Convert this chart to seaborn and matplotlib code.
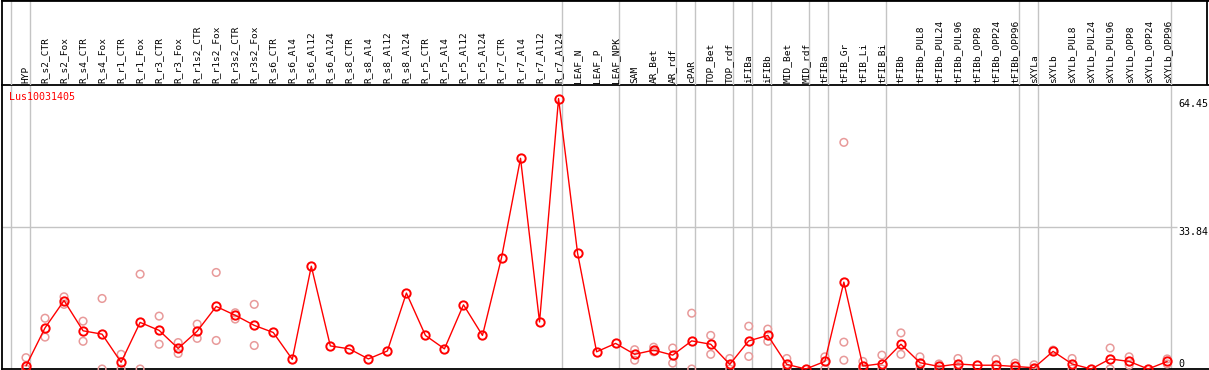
import numpy as np
import pandas as pd
import matplotlib
matplotlib.use("Agg")
import matplotlib.pyplot as plt
import seaborn as sns

# ---------------- data ----------------
categories = [
    "HYP", "R_s2_CTR", "R_s2_Fox", "R_s4_CTR", "R_s4_Fox", "R_r1_CTR", "R_r1_Fox",
    "R_r3_CTR", "R_r3_Fox", "R_r1s2_CTR", "R_r1s2_Fox", "R_r3s2_CTR", "R_r3s2_Fox",
    "R_s6_CTR", "R_s6_Al4", "R_s6_Al12", "R_s6_Al24", "R_s8_CTR", "R_s8_Al4",
    "R_s8_Al12", "R_s8_Al24", "R_r5_CTR", "R_r5_Al4", "R_r5_Al12", "R_r5_Al24",
    "R_r7_CTR", "R_r7_Al4", "R_r7_Al12", "R_r7_Al24", "LEAF_N", "LEAF_P", "LEAF_NPK",
    "SAM", "AR_Bet", "AR_rdf", "cPAR", "TOP_Bet", "TOP_rdf", "iFIBa", "iFIBb",
    "MID_Bet", "MID_rdf", "tFIBa", "tFIB_Gr", "tFIB_Li", "tFIB_Bi", "tFIBb",
    "tFIBb_PUL8", "tFIBb_PUL24", "tFIBb_PUL96", "tFIBb_OPP8", "tFIBb_OPP24",
    "tFIBb_OPP96", "sXYLa", "sXYLb", "sXYLb_PUL8", "sXYLb_PUL24", "sXYLb_PUL96",
    "sXYLb_OPP8", "sXYLb_OPP24", "sXYLb_OPP96",
]

means = [
    0.7, 9.8, 16.3, 9.1, 8.3, 1.6, 11.1,
    9.2, 4.9, 9.0, 14.9, 12.8, 10.4,
    8.7, 2.3, 24.5, 5.5, 4.8, 2.4,
    4.3, 18.1, 8.0, 4.8, 15.3, 8.0,
    26.5, 50.2, 11.2, 64.45, 27.6, 4.1, 6.1,
    3.5, 4.5, 3.3, 6.7, 5.9, 1.1, 6.7, 8.0,
    1.1, 0.0, 1.8, 20.7, 0.7, 1.3, 5.9,
    1.5, 0.6, 1.2, 0.9, 0.9,
    0.6, 0.3, 4.2, 1.2, 0.0, 2.4,
    1.8, 0.0, 1.8,
]

replicates = [
    [2.7, 0.0], [12.1, 7.6], [17.2, 15.4], [11.4, 6.6], [16.8, 0.0], [3.5, 0.0], [22.6, 0.0],
    [12.6, 5.9], [6.3, 3.7], [10.7, 7.3], [23.0, 6.8], [13.4, 11.9], [15.4, 5.6],
    [], [], [], [], [], [],
    [], [], [], [], [], [],
    [], [], [], [], [], [], [],
    [4.6, 2.1], [5.2, 4.1], [5.0, 1.4], [13.3, 0.0], [8.0, 3.5], [2.5, 0.0], [10.2, 3.0], [9.5, 6.6],
    [2.5, 0.0], [], [2.9, 0.0], [54.0, 6.4, 2.1], [1.8, 0.0], [3.3, 0.0], [8.6, 3.5],
    [2.9, 0.0], [1.2, 0.0], [2.5, 0.0], [], [2.3, 0.0],
    [1.4, 0.0], [1.0, 0.0], [4.5], [2.5, 0.0], [], [5.0, 0.0],
    [2.9, 0.9], [], [2.4, 1.2],
]

gene_id = "Lus10031405"
scale_values = [64.45, 33.84, 0]
scale_labels = ["64.45", "33.84", "0"]
separator_after = [-1, 0, 28, 31, 34, 35, 37, 38, 39, 41, 42, 45, 52, 53, 60]

# ---------------- style ----------------
sns.set_style("white")
plt.rcParams["font.family"] = ["DejaVu Sans Mono", "DejaVu Sans"]

W, H = 1209, 370
fig = plt.figure(figsize=(W / 100, H / 100), dpi=100)

x0_px, step_px = 26.0, 19.02
def px2idx(px):
    return (px - x0_px) / step_px

left_px, right_px = 1.5, 1209.0
plot_top, plot_bot = 85.0, 369.0
ppu = 4.197  # pixels per unit

ax = fig.add_axes([left_px / W, (H - plot_bot) / H,
                   (right_px - left_px) / W, (plot_bot - plot_top) / H])
hx = fig.add_axes([left_px / W, (H - plot_top) / H,
                   (right_px - left_px) / W, plot_top / H])

xlim = (px2idx(left_px), px2idx(right_px))
ax.set_xlim(*xlim)
ax.set_ylim(0, (plot_bot - plot_top) / ppu)
hx.set_xlim(*xlim)
hx.set_ylim(0, 1)

n = len(categories)
idx = np.arange(n)
df_mean = pd.DataFrame({"idx": idx, "value": means})
rep_rows = [(i, v) for i, reps in enumerate(replicates) for v in reps]
df_rep = pd.DataFrame(rep_rows, columns=["idx", "value"])

grid_c = "#c4c4c4"
for s in separator_after:
    ax.axvline(s + 0.19, color=grid_c, lw=1.0, zorder=0)
    hx.axvline(s + 0.19, color=grid_c, lw=1.0, zorder=0)
ax.hlines(33.84, xlim[0], px2idx(1177), color=grid_c, lw=1.0, zorder=0)

pink = "#e89a9a"
sns.scatterplot(data=df_rep, x="idx", y="value", ax=ax, marker="o", s=30,
                facecolor="none", edgecolor=pink, linewidth=1.1,
                clip_on=False, zorder=3, legend=False)
sns.lineplot(data=df_mean, x="idx", y="value", ax=ax, color="red", lw=1.0,
             marker="o", markersize=6, markerfacecolor="none",
             markeredgecolor="red", markeredgewidth=1.4, sort=False,
             clip_on=False, zorder=4, legend=False)

# header labels
for i, c in enumerate(categories):
    hx.text(i, (plot_top - 83) / plot_top, c, rotation=90, ha="center",
            va="bottom", fontsize=6.8, color="black")

# scale labels on right
for v, lab in zip(scale_values, scale_labels):
    ax.text(px2idx(1178), v, lab, ha="left", va=("bottom" if v == 0 else "top"),
            fontsize=7.2, color="black", clip_on=False)

fig.text(9 / W, 1 - 97 / H, gene_id, color="red", fontsize=7.2,
         ha="left", va="center")

for a in (ax, hx):
    a.set_xticks([])
    a.set_yticks([])
    a.set_xlabel("")
    a.set_ylabel("")
    a.set_facecolor("none")

for sp in ("left", "bottom", "top"):
    ax.spines[sp].set_visible(True)
    ax.spines[sp].set_color("black")
    ax.spines[sp].set_linewidth(1.3)
ax.spines["right"].set_visible(False)

for sp in ("left", "top"):
    hx.spines[sp].set_visible(True)
    hx.spines[sp].set_color("black")
    hx.spines[sp].set_linewidth(2.0)
hx.spines["left"].set_linewidth(1.3)
hx.spines["bottom"].set_visible(False)
hx.spines["right"].set_visible(False)
hx.axvline(px2idx(1207), color="black", lw=1.3)

fig.savefig("out.png", dpi=100)
